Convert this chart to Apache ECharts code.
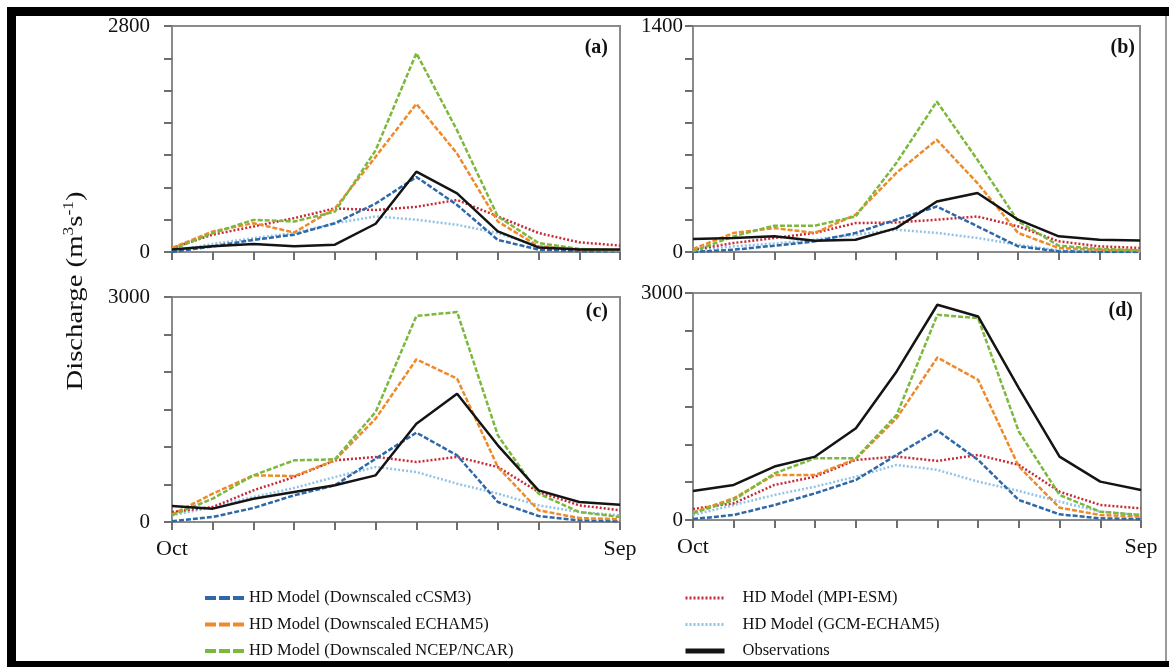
<!DOCTYPE html>
<html>
<head>
<meta charset="utf-8">
<script src="https://cdn.jsdelivr.net/npm/echarts@6/dist/echarts.min.js"></script>
<style>
  html, body { margin: 0; padding: 0; background: #fff; }
  #main { width: 1169px; height: 667px; }
</style>
</head>
<body>
<div id="main"></div>
<script>
// months, Oct .. Sep
let months = ['Oct', 'Nov', 'Dec', 'Jan', 'Feb', 'Mar', 'Apr', 'May', 'Jun', 'Jul', 'Aug', 'Sep'];

// panel (a)  0..2800
let aCcsm3  = [0, 70, 150, 215, 357, 600, 930, 583, 150, 30, 10, 10];
let aEcham5 = [50, 255, 357, 242, 540, 1180, 1835, 1220, 378, 70, 30, 20];
let aNcep   = [30, 234, 398, 378, 500, 1260, 2463, 1507, 440, 111, 37, 20];
let aMpi    = [50, 215, 316, 420, 540, 520, 560, 645, 440, 235, 120, 80];
let aGcm    = [10, 100, 170, 235, 357, 440, 400, 337, 235, 70, 30, 20];
let aObs    = [30, 70, 100, 70, 90, 350, 995, 727, 255, 57, 30, 30];

// panel (b)  0..1400
let bCcsm3  = [0, 14, 39, 66, 118, 200, 282, 159, 35, 4, 0, 0];
let bEcham5 = [19, 118, 148, 118, 231, 489, 695, 427, 118, 25, 14, 10];
let bNcep   = [4, 97, 163, 163, 220, 550, 932, 571, 190, 39, 19, 10];
let bMpi    = [14, 56, 87, 118, 179, 183, 200, 220, 159, 66, 35, 25];
let bGcm    = [10, 35, 52, 76, 107, 138, 118, 87, 45, 10, 4, 0];
let bObs    = [80, 87, 97, 70, 76, 148, 313, 365, 200, 97, 76, 72];

// panel (c)  0..3000
let cCcsm3  = [9, 67, 187, 356, 489, 844, 1191, 889, 267, 80, 22, 9];
let cEcham5 = [98, 378, 622, 613, 822, 1378, 2169, 1911, 733, 156, 53, 36];
let cNcep   = [89, 311, 622, 822, 836, 1467, 2747, 2800, 1156, 378, 133, 67];
let cMpi    = [133, 200, 422, 600, 822, 867, 800, 867, 733, 400, 222, 156];
let cGcm    = [89, 200, 333, 453, 600, 733, 667, 511, 378, 222, 133, 89];
let cObs    = [213, 178, 311, 400, 489, 622, 1311, 1711, 1022, 422, 267, 231];

// panel (d)  0..3000
let dCcsm3  = [13, 66, 198, 353, 529, 860, 1182, 794, 265, 75, 22, 13];
let dEcham5 = [101, 287, 595, 595, 807, 1345, 2148, 1852, 706, 163, 66, 44];
let dNcep   = [88, 265, 617, 816, 816, 1389, 2712, 2668, 1169, 331, 110, 66];
let dMpi    = [146, 221, 463, 573, 794, 838, 781, 860, 728, 375, 198, 154];
let dGcm    = [66, 198, 331, 441, 573, 728, 662, 507, 384, 243, 110, 66];
let dObs    = [384, 463, 706, 838, 1213, 1963, 2845, 2690, 1742, 838, 507, 397];

let yMax = [2800, 1400, 3000, 3000];
let yStep = [400, 200, 500, 500];
let panelNames = ['(a)', '(b)', '(c)', '(d)'];

let nCcsm3 = 'HD Model (Downscaled cCSM3)';
let nEcham5 = 'HD Model (Downscaled ECHAM5)';
let nNcep = 'HD Model (Downscaled NCEP/NCAR)';
let nMpi = 'HD Model (MPI-ESM)';
let nGcm = 'HD Model (GCM-ECHAM5)';
let nObs = 'Observations';

let serif = 'Liberation Serif, Times New Roman, serif';
let axisGray = '#8a8a8a';

// pixel boxes of the four plots
let boxes = [
    {left: 172, top: 26, width: 448, height: 226},
    {left: 693, top: 26, width: 447, height: 226},
    {left: 172, top: 297, width: 448, height: 225},
    {left: 693, top: 293, width: 448, height: 227}
];

let styles = {};
styles[nGcm]    = {color: '#93c3e4', type: [2, 2], width: 2.5};
styles[nMpi]    = {color: '#c62a36', type: [2, 2], width: 2.5};
styles[nCcsm3]  = {color: '#2e68a8', type: [5, 2], width: 2.5};
styles[nEcham5] = {color: '#ee8a2a', type: [5, 2], width: 2.5};
styles[nNcep]   = {color: '#7cb83e', type: [5, 2], width: 2.5};
styles[nObs]    = {color: '#141414', type: 'solid', width: 2.5};

let panelData = [
    [aGcm, aMpi, aCcsm3, aEcham5, aNcep, aObs],
    [bGcm, bMpi, bCcsm3, bEcham5, bNcep, bObs],
    [cGcm, cMpi, cCcsm3, cEcham5, cNcep, cObs],
    [dGcm, dMpi, dCcsm3, dEcham5, dNcep, dObs]
];
let drawOrder = [nGcm, nMpi, nCcsm3, nEcham5, nNcep, nObs];

let grids = [], xAxes = [], yAxes = [], series = [];
boxes.forEach(function (b, i) {
    grids.push({
        left: b.left, top: b.top, width: b.width, height: b.height,
        show: true, borderColor: axisGray, borderWidth: 2, backgroundColor: '#fff'
    });
    let bottomRow = i >= 2;
    xAxes.push({
        type: 'category', gridIndex: i, data: months, boundaryGap: false,
        axisLine: {lineStyle: {color: axisGray, width: 2}},
        axisTick: {show: true, interval: 0, inside: false, length: 8, lineStyle: {color: '#6e6e6e', width: 2}},
        splitLine: {show: false},
        axisLabel: {
            show: bottomRow, interval: 0, margin: 16, color: '#111',
            fontFamily: serif, fontSize: 22,
            formatter: function (v, idx) { return (idx === 0 || idx === months.length - 1) ? v : ''; }
        }
    });
    let max = yMax[i];
    yAxes.push({
        type: 'value', gridIndex: i, min: 0, max: max, interval: yStep[i],
        axisLine: {show: true, lineStyle: {color: axisGray, width: 2}},
        axisTick: {show: true, inside: false, length: 8, lineStyle: {color: '#6e6e6e', width: 2}},
        splitLine: {show: false},
        axisLabel: {
            margin: i % 2 === 0 ? 22 : 10, color: '#111', fontFamily: serif, fontSize: 21,
            formatter: function (v) { return (v === 0 || v === max) ? String(v) : ''; }
        }
    });
    drawOrder.forEach(function (name, k) {
        let st = styles[name];
        series.push({
            name: name, type: 'line', xAxisIndex: i, yAxisIndex: i,
            data: panelData[i][k], symbol: 'none', smooth: false,
            lineStyle: {color: st.color, type: st.type, width: st.width},
            itemStyle: {color: st.color},
            z: 2 + k
        });
    });
});

// legend entries: line only, no marker
function legendItem(name, type, width) {
    return {name: name, lineStyle: {type: type, width: width}, itemStyle: {opacity: 0}};
}

let legendText = {fontFamily: serif, fontSize: 16.5, color: '#111', lineHeight: 20};

let option = {
    animation: false,
    backgroundColor: '#fff',
    grid: grids,
    xAxis: xAxes,
    yAxis: yAxes,
    series: series,
    legend: [{
        orient: 'vertical', left: 203, top: 588, padding: 0,
        itemWidth: 39, itemHeight: 14, itemGap: 6.5,
        textStyle: legendText,
        data: [
            legendItem(nCcsm3, [11, 3], 4),
            legendItem(nEcham5, [11, 3], 4),
            legendItem(nNcep, [11, 3], 4)
        ]
    }, {
        orient: 'vertical', left: 683, top: 588, padding: 0,
        itemWidth: 39, itemHeight: 14, itemGap: 6.5,
        textStyle: Object.assign({padding: [0, 0, 0, 13]}, legendText),
        data: [
            legendItem(nMpi, [2, 2], 3),
            legendItem(nGcm, [2, 2], 3),
            legendItem(nObs, 'solid', 5)
        ]
    }],
    graphic: [
        // figure frame
        {type: 'rect', shape: {x: 7, y: 7, width: 9, height: 660}, style: {fill: '#000'}, silent: true},
        {type: 'rect', shape: {x: 7, y: 7, width: 1162, height: 9}, style: {fill: '#000'}, silent: true},
        {type: 'rect', shape: {x: 7, y: 661, width: 1162, height: 6}, style: {fill: '#000'}, silent: true},
        {type: 'rect', shape: {x: 1165, y: 16, width: 2, height: 645}, style: {fill: '#9a9a9a'}, silent: true},
        {
            type: 'text', x: 76, y: 291, rotation: Math.PI / 2, scaleX: 1.25,
            style: {
                text: '{a|Discharge (m}{s|3}{a|s}{s|-1}{a|)}',
                align: 'center', verticalAlign: 'middle', fill: '#111',
                rich: {
                    a: {fontFamily: serif, fontSize: 23, lineHeight: 28, fill: '#111'},
                    s: {fontFamily: serif, fontSize: 14, lineHeight: 14, verticalAlign: 'top', fill: '#111'}
                }
            }
        }
    ]
};

// panel tags (a) .. (d)
let tagPos = [[608, 48], [1135, 48], [608, 312], [1133, 311]];
panelNames.forEach(function (t, i) {
    option.graphic.push({
        type: 'text', x: tagPos[i][0], y: tagPos[i][1], z: 100,
        style: {text: t, align: 'right', verticalAlign: 'middle', fill: '#111',
            font: 'bold 20px ' + serif}
    });
});

let chart = echarts.init(document.getElementById('main'));
chart.setOption(option);
window.onresize = function () {
    chart.resize();
};
</script>
</body>
</html>
